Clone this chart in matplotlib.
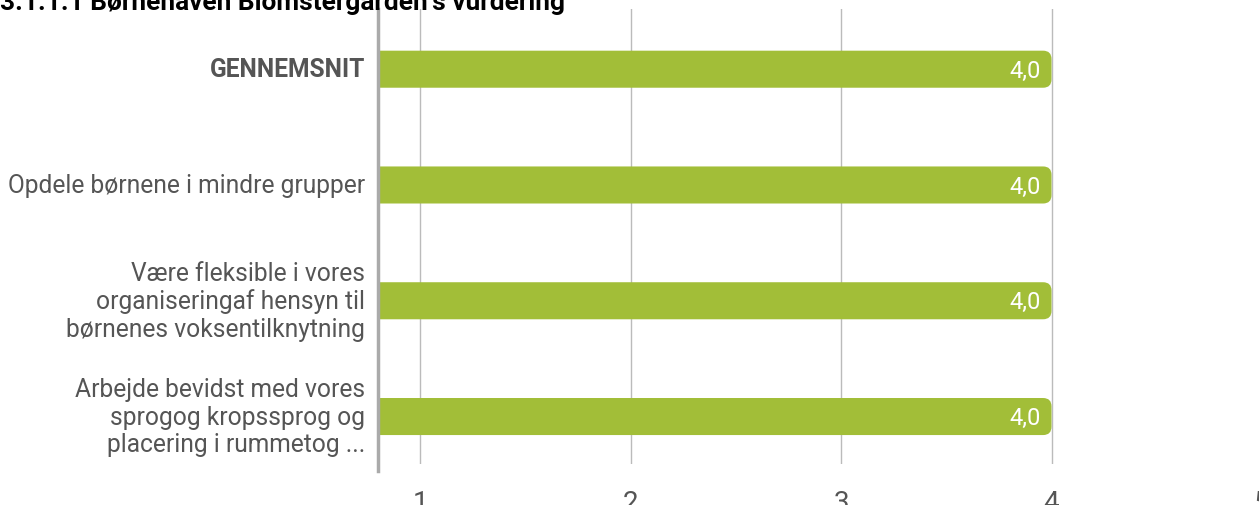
import matplotlib.pyplot as plt
from matplotlib.patches import FancyBboxPatch
from matplotlib.lines import Line2D

# Data
titel = "3.1.1.1 Børnehaven Blomstergarden's vurdering"
kategorier = [
    "GENNEMSNIT",
    "Opdele børnene i mindre grupper",
    "Være fleksible i vores\norganiseringaf hensyn til\nbørnenes voksentilknytning",
    "Arbejde bevidst med vores\nsprogog kropssprog og\nplacering i rummetog ...",
]
vaerdier = [4.0, 4.0, 4.0, 4.0]
xticks = [1, 2, 3, 4, 5]

plt.rcParams['font.family'] = ['Roboto', 'DejaVu Sans']

W, H = 1259, 506
fig = plt.figure(figsize=(W / 100, H / 100), dpi=100)

# axes: x 0.8..5.0 spans px 378..1262, y spans px 10..465
ax = fig.add_axes([378 / W, 1 - 465 / H, 884 / W, 455 / H])
ax.set_xlim(0.8, 5.0)
ax.set_ylim(3.41, -0.52)

gron = '#a2be38'
tekst = '#555555'
xmin = 0.8
bar_h = 0.32
r = 0.04
aspekt = (884 / 4.2) / (455 / 3.93)

for i, v in enumerate(vaerdier):
    # starts left of the axis so the left rounded corners are clipped away
    ax.add_patch(FancyBboxPatch((xmin - 0.2, i - bar_h / 2), v - xmin + 0.2, bar_h,
                                boxstyle=f"round,pad=0,rounding_size={r}",
                                mutation_aspect=aspekt,
                                facecolor=gron, edgecolor='none', zorder=3))
    ax.text(v - 0.05, i + 0.01, f"{v:.1f}".replace('.', ','), color='white',
            fontsize=17, ha='right', va='center', zorder=4)

ax.set_xticks(xticks)
ax.set_xticklabels([str(t) for t in xticks])
ax.tick_params(axis='x', length=0, pad=18, labelsize=20, labelcolor=tekst)
ax.grid(axis='x', color='#bbbbbb', linewidth=1, zorder=0)
ax.set_axisbelow(True)

ax.set_yticks(range(len(kategorier)))
ax.set_yticklabels([])
ax.tick_params(axis='y', length=0)
for i, k in enumerate(kategorier):
    ax.text(-0.0147, i, k, transform=ax.get_yaxis_transform(),
            ha='right', va='center', fontsize=17.7, color=tekst,
            linespacing=1.18,
            fontweight='bold' if i == 0 else 'normal')

for s in ax.spines.values():
    s.set_visible(False)
ax.add_line(Line2D([0, 0], [-0.016, 1.0], transform=ax.transAxes,
                   color='#aaaaaa', linewidth=2.5, clip_on=False, zorder=5))

fig.text(0, 1 - 10 / H, titel, fontsize=18.9, fontweight='bold',
         color='black', ha='left', va='baseline')

fig.savefig('out.png', dpi=100)
